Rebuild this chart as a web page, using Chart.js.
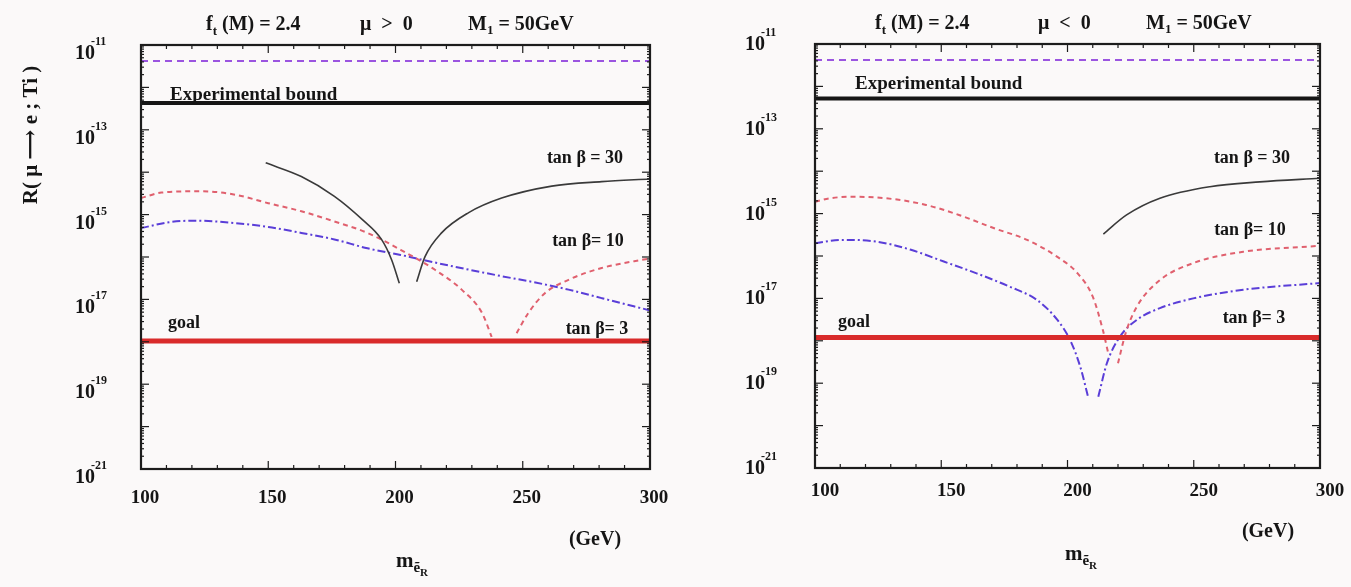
<!DOCTYPE html>
<html>
<head>
<meta charset="utf-8">
<script src="https://cdn.jsdelivr.net/npm/chart.js@4.4.1/dist/chart.umd.min.js"></script>
<style>
html,body{margin:0;padding:0;background:#fbf9f9;}
#wrap{position:relative;width:1351px;height:587px;overflow:hidden;background:#fbf9f9;}
canvas{position:absolute;top:0;}
#cLeft{left:0;}
#cRight{left:675px;}
</style>
</head>
<body>
<div id="wrap">
  <canvas id="cLeft" width="675" height="587"></canvas>
  <canvas id="cRight" width="676" height="587"></canvas>
</div>
<script>
// axes
const xTicks = [100,110,120,130,140,150,160,170,180,190,200,210,220,230,240,250,260,270,280,290,300];
const xLabels = [100,150,200,250,300];
const yDecades = [-21,-20,-19,-18,-17,-16,-15,-14,-13,-12,-11];
const yLabelExps = [-11,-13,-15,-17,-19,-21];

/* LEFT PANEL  (mu > 0) : selectron mass (GeV) vs R(mu -> e; Ti), null = gap at the cancellation */
const L_oldBound = 4.2e-12;
const L_expBound = 4.3e-13;
const L_goal = 1.05e-18;
const L_t30_m = [149,163,176,187,194.5,198.5,201.5,205,208.3,211.6,218.1,228.6,241.7,261.4,281,300];
const L_t30_r = [1.66e-14,7.9e-15,2.7e-15,7.6e-16,2.6e-16,8.5e-17,2.4e-17,null,2.6e-17,1.02e-16,3.7e-16,1.1e-15,2.45e-15,4.7e-15,6.0e-15,6.9e-15];
const L_t10_m = [100,108,124,137,150,163,176,189,202,215.5,226,234,237.8,243,247.6,252.2,258.7,268,281,300];
const L_t10_r = [2.45e-15,3.3e-15,3.55e-15,2.95e-15,1.86e-15,1.2e-15,6.9e-16,3.7e-16,1.48e-16,5.0e-17,1.7e-17,4.8e-18,1.3e-18,null,1.6e-18,4.8e-18,1.4e-17,2.9e-17,5.5e-17,9.3e-17];
const L_t3_m = [100,111,121,137,150,163,176,189,202,215.5,229,242,255,268,281,300];
const L_t3_r = [4.8e-16,6.6e-16,7.2e-16,6.3e-16,5.1e-16,3.7e-16,2.6e-16,1.6e-16,1.12e-16,7.4e-17,5.0e-17,3.5e-17,2.5e-17,1.7e-17,1.07e-17,5.5e-18];

/* RIGHT PANEL (mu < 0) */
const R_oldBound = 4.2e-12;
const R_expBound = 5.2e-13;
const R_goal = 1.2e-18;
const R_t30_m = [214.2,223.4,236.6,256.4,276.2,300];
const R_t30_r = [3.3e-16,9.3e-16,2.3e-15,4.3e-15,5.6e-15,6.8e-15];
const R_t10_m = [100,106,115,131,144,157,171,184,196,204,210,214,216,218,220,223,227.4,236.6,249.8,269.6,300];
const R_t10_r = [1.9e-15,2.3e-15,2.5e-15,2.2e-15,1.6e-15,9.3e-16,4.5e-16,2.4e-16,9.5e-17,3.9e-17,1.1e-17,1.8e-18,5.5e-19,null,2.95e-19,1.5e-18,6.3e-18,2.7e-17,6.8e-17,1.26e-16,1.74e-16];
const R_t3_m = [100,111,124,138,151,164,177,188,196,201,205,208.3,210,212.2,215.6,220.8,227.4,236.6,249.8,269.6,300];
const R_t3_r = [2.0e-16,2.4e-16,2.2e-16,1.4e-16,7.4e-17,3.9e-17,1.9e-17,9.1e-18,3.1e-18,1.05e-18,2.5e-19,4.4e-20,null,4.8e-20,2.95e-19,1.26e-18,3.1e-18,5.9e-18,1.0e-17,1.6e-17,2.3e-17];

const FONT = '"Liberation Serif","DejaVu Serif",serif';
const font = s => `bold ${s}px ${FONT}`;

function pts(xs, ys){ return xs.map((x,i)=>({x:x, y:ys[i]})); }
function flat(v){ return [{x:100,y:v},{x:300,y:v}]; }

function drawRich(ctx, x, y, parts, align){
  let w = 0;
  parts.forEach(p=>{ ctx.font = font(p[1]); w += ctx.measureText(p[0]).width; });
  let cx = align==="center" ? x - w/2 : align==="right" ? x - w : x;
  parts.forEach(p=>{
    ctx.font = font(p[1]);
    ctx.fillText(p[0], cx, y + (p[2]||0));
    cx += ctx.measureText(p[0]).width;
  });
}

/* frame, inward ticks and all the text of the figure */
const paperPlugin = {
  id:"paper",
  afterDraw(chart, args, o){
    const ctx = chart.ctx, a = chart.chartArea;
    const xs = chart.scales.x, ys = chart.scales.y;
    ctx.save();
    ctx.strokeStyle = "#1c1c1c";
    ctx.lineWidth = 1.2;
    const seg = (x1,y1,x2,y2)=>{ ctx.beginPath(); ctx.moveTo(x1,y1); ctx.lineTo(x2,y2); ctx.stroke(); };
    xTicks.forEach(v=>{
      const px = xs.getPixelForValue(v);
      const len = v % 50 === 0 ? 8 : 4;
      seg(px, a.bottom, px, a.bottom - len);
      seg(px, a.top, px, a.top + len);
    });
    yDecades.forEach(e=>{
      for (let k=1; k<10; k++){
        const v = k * Math.pow(10, e);
        if (v > 1.0001e-11) break;
        const py = ys.getPixelForValue(v);
        const len = k===1 ? 8 : 3;
        seg(a.left, py, a.left + len, py);
        seg(a.right, py, a.right - len, py);
      }
    });
    ctx.lineWidth = 2.2;
    ctx.strokeRect(a.left, a.top, a.right - a.left, a.bottom - a.top);

    ctx.fillStyle = "#151515";
    ctx.textBaseline = "alphabetic";
    // tick labels
    yLabelExps.forEach(e=>{
      const py = ys.getPixelForValue(Math.pow(10, e));
      const c = py + o.yLabDy;
      ctx.textAlign = "left";
      drawRich(ctx, o.yLabX, c + 7, [["10",20]], "right");
      drawRich(ctx, o.yLabX - 4, c - 7, [[String(e),12]], "left");
    });
    xLabels.forEach(v=>{
      drawRich(ctx, xs.getPixelForValue(v) + o.xLabDx, o.xLabY, [[String(v),19]], "center");
    });
    // titles
    o.title.forEach(t=> drawRich(ctx, t.x, o.titleY, t.parts, "left"));
    // inside texts
    o.texts.forEach(t=> drawRich(ctx, t.x, t.y, t.parts, t.align));
    // axis titles
    drawRich(ctx, o.gev[0], o.gev[1], [["(GeV)",20]], "center");
    drawRich(ctx, o.mlab[0], o.mlab[1], [["m",21],["ẽ",15,5],["R",11,9]], "center");
    if (o.ylab){
      ctx.translate(o.ylab[0], o.ylab[1]);
      ctx.rotate(-Math.PI/2);
      drawRich(ctx, 0, 7, [["R( μ ⟶ e ; Ti )",21]], "center");
    }
    ctx.restore();
  }
};

function makeChart(id, pad, d, cfg){
  return new Chart(document.getElementById(id), {
    type:"line",
    data:{
      datasets:[
        {data:flat(d.oldB), borderColor:"#9b55e0", borderWidth:2, borderDash:[7,5]},
        {data:flat(d.expB), borderColor:"#161616", borderWidth:4},
        {data:flat(d.goal), borderColor:"#d92b2b", borderWidth:5},
        {data:pts(d.m30, d.r30), borderColor:"#3a3a3a", borderWidth:1.6},
        {data:pts(d.m10, d.r10), borderColor:"#e0606e", borderWidth:2, borderDash:[5,4]},
        {data:pts(d.m3, d.r3), borderColor:"#5a3ed8", borderWidth:2, borderDash:[8,3,2,3]}
      ]
    },
    options:{
      responsive:false,
      animation:false,
      layout:{padding:pad},
      elements:{point:{radius:0}, line:{cubicInterpolationMode:"monotone", fill:false}},
      plugins:{legend:{display:false}, tooltip:{enabled:false}, paper:cfg},
      scales:{
        x:{type:"linear", min:100, max:300, display:false},
        y:{type:"logarithmic", min:1e-21, max:1e-11, display:false}
      }
    },
    plugins:[paperPlugin]
  });
}

makeChart("cLeft", {left:141, top:45, right:25, bottom:118},
  {oldB:L_oldBound, expB:L_expBound, goal:L_goal, m30:L_t30_m, r30:L_t30_r, m10:L_t10_m, r10:L_t10_r, m3:L_t3_m, r3:L_t3_r},
  {
    yLabX:95, yLabDy:7, xLabDx:4, xLabY:503, titleY:30,
    title:[
      {x:206, parts:[["f",20],["t",13,5],[" (M) = 2.4",20]]},
      {x:360, parts:[["μ  >  0",20]]},
      {x:468, parts:[["M",20],["1",13,4],[" = 50GeV",20]]}
    ],
    texts:[
      {x:170, y:100, align:"left", parts:[["Experimental bound",19]]},
      {x:585, y:163, align:"center", parts:[["tan β = 30",18]]},
      {x:588, y:246, align:"center", parts:[["tan β= 10",18]]},
      {x:597, y:334, align:"center", parts:[["tan β= 3",18]]},
      {x:168, y:328, align:"left", parts:[["goal",18]]}
    ],
    gev:[595,545], mlab:[412,567], ylab:[30,135]
  });

makeChart("cRight", {left:140, top:44, right:31, bottom:119},
  {oldB:R_oldBound, expB:R_expBound, goal:R_goal, m30:R_t30_m, r30:R_t30_r, m10:R_t10_m, r10:R_t10_r, m3:R_t3_m, r3:R_t3_r},
  {
    yLabX:90, yLabDy:-1, xLabDx:10, xLabY:496, titleY:29,
    title:[
      {x:200, parts:[["f",20],["t",13,5],[" (M) = 2.4",20]]},
      {x:363, parts:[["μ  <  0",20]]},
      {x:471, parts:[["M",20],["1",13,4],[" = 50GeV",20]]}
    ],
    texts:[
      {x:180, y:89, align:"left", parts:[["Experimental bound",19]]},
      {x:577, y:163, align:"center", parts:[["tan β = 30",18]]},
      {x:575, y:235, align:"center", parts:[["tan β= 10",18]]},
      {x:579, y:323, align:"center", parts:[["tan β= 3",18]]},
      {x:163, y:327, align:"left", parts:[["goal",18]]}
    ],
    gev:[593,537], mlab:[406,560], ylab:null
  });
</script>
</body>
</html>
